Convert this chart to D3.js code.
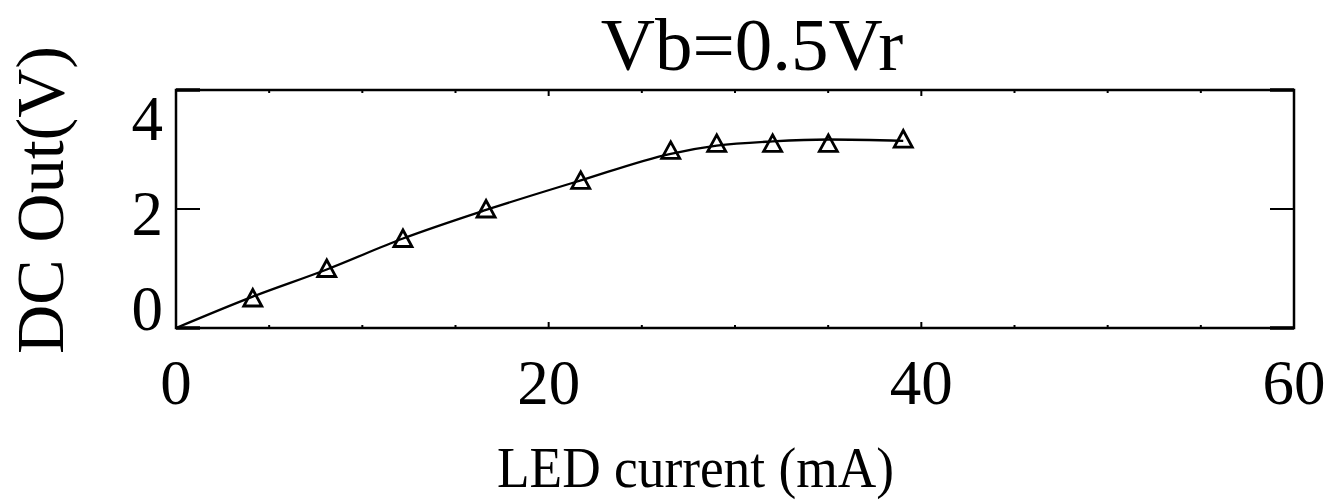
<!DOCTYPE html>
<html>
<head>
<meta charset="utf-8">
<script src="https://cdn.jsdelivr.net/npm/d3@7"></script>
<style>
  body { margin: 0; background: #fff; }
  svg text { font-family: "Liberation Serif", "Times New Roman", serif; fill: #000; }
</style>
</head>
<body>
<svg width="1334" height="502"></svg>
<script>
// measured points (LED current mA, DC out V)
var current = [4.12, 8.09, 12.18, 16.64, 21.72, 26.55, 29.02, 32.02, 35.01, 39.03];
var dcOut   = [0.13, 0.75, 1.38, 2.0, 2.6, 3.23, 3.38, 3.38, 3.38, 3.47];

// fitted curve
var fitX = [0, 4.12, 8.09, 12.18, 16.64, 21.72, 26.55, 29.02, 32.02, 35.01, 39.03];
var fitY = [-0.5, 0.16, 0.73, 1.38, 1.98, 2.6, 3.16, 3.33, 3.42, 3.46, 3.43];

var xTickLabels = [0, 20, 40, 60];
var yTickLabels = [0, 2, 4];

var svg = d3.select("svg"),
    margin = {top: 90, right: 40, bottom: 174, left: 176},
    width = 1334 - margin.left - margin.right,
    height = 502 - margin.top - margin.bottom;

var x = d3.scaleLinear().domain([0, 60]).range([0, width]);
var y = d3.scaleLinear().domain([-0.5, 4.5]).range([height, 0]);

var g = svg.append("g")
    .attr("transform", "translate(" + margin.left + "," + margin.top + ")");

// frame
g.append("rect")
    .attr("width", width).attr("height", height)
    .attr("fill", "none").attr("stroke", "#000").attr("stroke-width", 2.5);

// x ticks: minor every 5, major every 20, inward, top and bottom
var xt = d3.range(5, 60, 5);
xt.forEach(function(v) {
  var len = (v % 20 === 0) ? 6 : 3;
  g.append("line").attr("x1", x(v)).attr("x2", x(v)).attr("y1", height).attr("y2", height - len)
    .attr("stroke", "#000").attr("stroke-width", 2);
  g.append("line").attr("x1", x(v)).attr("x2", x(v)).attr("y1", 0).attr("y2", len)
    .attr("stroke", "#000").attr("stroke-width", 2);
});

// y ticks inward, left and right
[-0.5, 2, 4.5].forEach(function(v) {
  var w = (v === 2) ? 2 : 3.5;
  g.append("line").attr("x1", 0).attr("x2", 24).attr("y1", y(v)).attr("y2", y(v))
    .attr("stroke", "#000").attr("stroke-width", w);
  g.append("line").attr("x1", width).attr("x2", width - 24).attr("y1", y(v)).attr("y2", y(v))
    .attr("stroke", "#000").attr("stroke-width", w);
});

// tick labels
g.selectAll(".xlab").data(xTickLabels).enter().append("text")
    .attr("class", "xlab")
    .attr("x", function(d) { return x(d); })
    .attr("y", height + 76)
    .attr("text-anchor", "middle")
    .style("font-size", "63px")
    .text(function(d) { return d; });

g.selectAll(".ylab").data(yTickLabels).enter().append("text")
    .attr("class", "ylab")
    .attr("x", -13)
    .attr("y", function(d) { return y(d) + 26; })
    .attr("text-anchor", "end")
    .style("font-size", "63px")
    .text(function(d) { return d; });

// fitted line
var pts = fitX.map(function(d, i) { return [d, fitY[i]]; });
var line = d3.line()
    .x(function(d) { return x(d[0]); })
    .y(function(d) { return y(d[1]); })
    .curve(d3.curveMonotoneX);

g.append("path")
    .datum(pts)
    .attr("d", line)
    .attr("fill", "none")
    .attr("stroke", "#000")
    .attr("stroke-width", 2.3);

// triangle markers
var data = current.map(function(d, i) { return {x: d, y: dcOut[i]}; });
g.selectAll(".pt")
    .data(data)
  .enter().append("path")
    .attr("class", "pt")
    .attr("transform", function(d) { return "translate(" + x(d.x) + "," + y(d.y) + ")"; })
    .attr("d", "M0,-8.5L9,8L-9,8Z")
    .attr("fill", "none")
    .attr("stroke", "#000")
    .attr("stroke-width", 2.8);

// titles
svg.append("text")
    .attr("x", 752).attr("y", 70)
    .attr("text-anchor", "middle")
    .style("font-size", "75px")
    .text("Vb=0.5Vr");

svg.append("text")
    .attr("x", 497).attr("y", 487)
    .attr("textLength", 397)
    .attr("lengthAdjust", "spacingAndGlyphs")
    .style("font-size", "58px")
    .text("LED current (mA)");

svg.append("text")
    .attr("transform", "translate(63,200) rotate(-90)")
    .attr("text-anchor", "middle")
    .style("font-size", "68px")
    .text("DC Out(V)");
</script>
</body>
</html>
